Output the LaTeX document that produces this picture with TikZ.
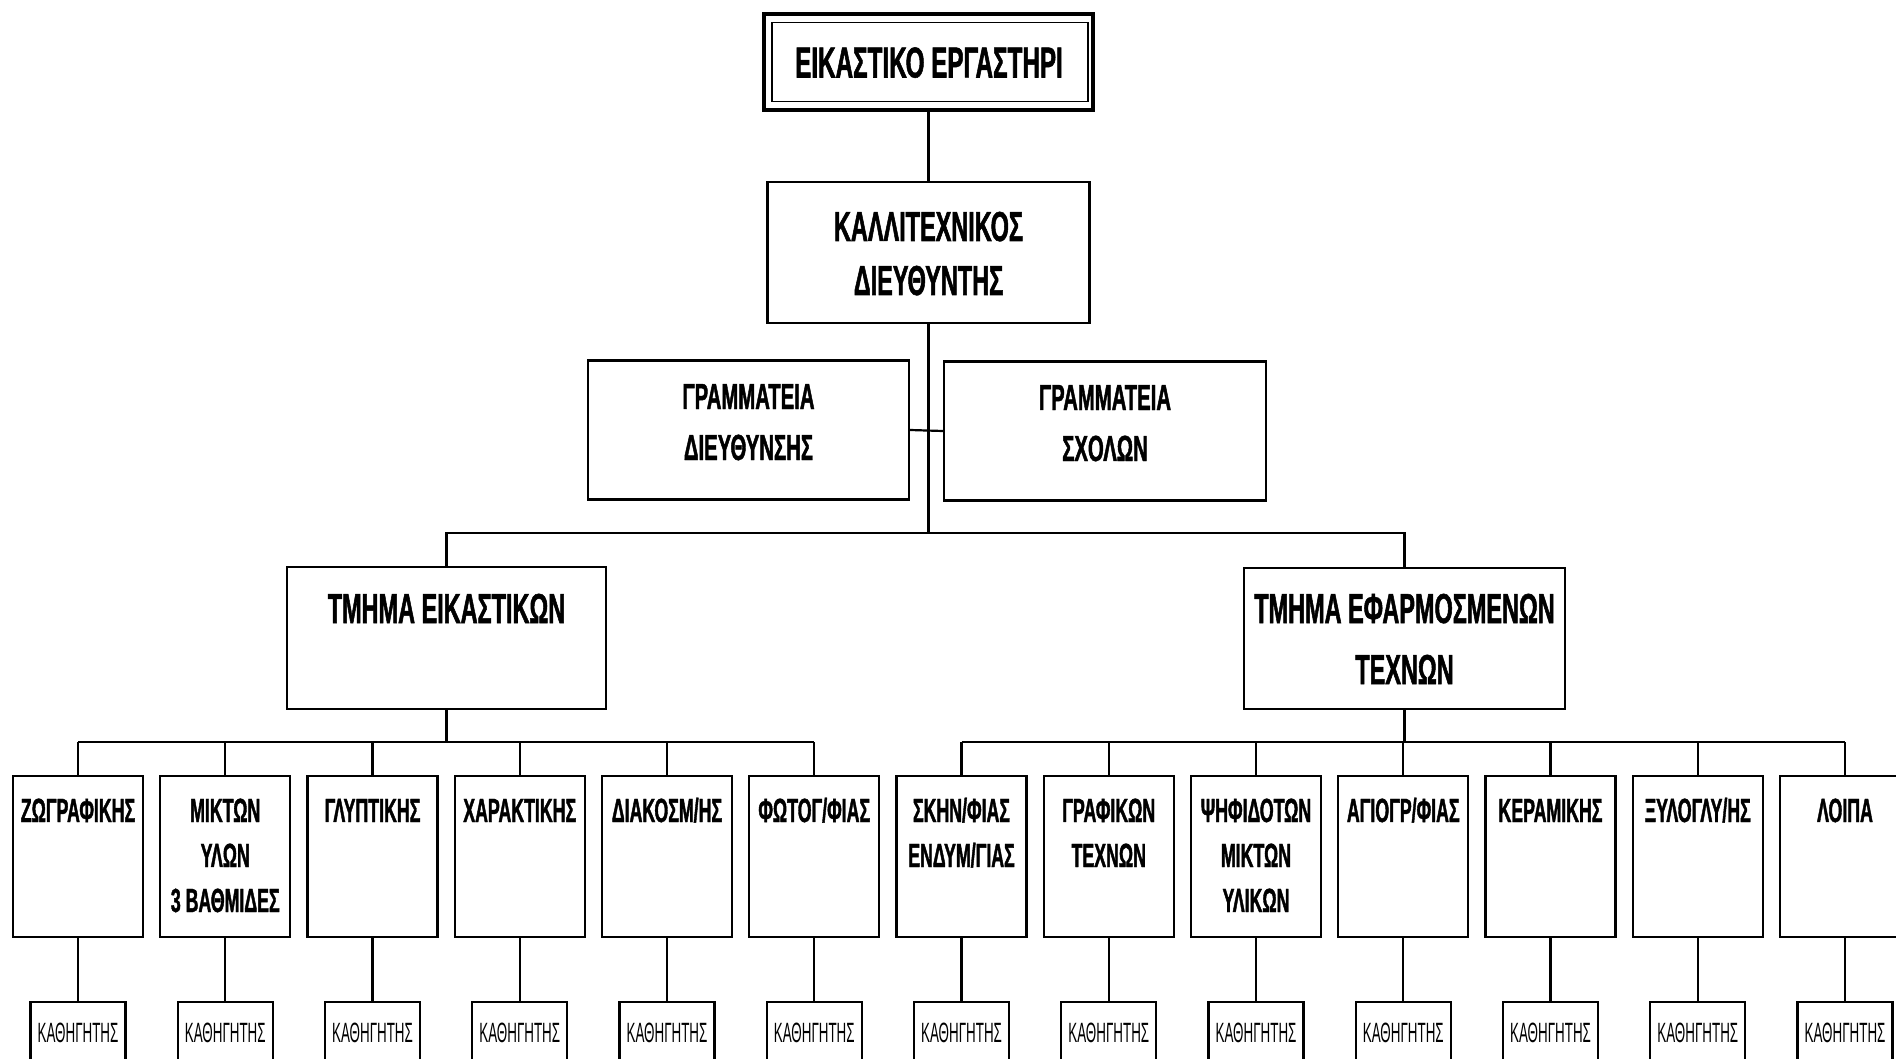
\documentclass[tikz,border=0pt]{standalone}
\usepackage{fontspec}
\setmainfont{Liberation Sans}
\newfontfamily\condB{Liberation Sans}[FakeStretch=0.56,FakeBold=1.2]
\newfontfamily\condS{Liberation Sans}[FakeStretch=0.53,FakeBold=1.2]
\newfontfamily\condR{Liberation Sans}[FakeStretch=0.48]
\begin{document}
\begin{tikzpicture}[x=1pt,y=-1pt,
  box/.style={draw, rectangle, line width=2.3pt, inner sep=0pt},
  conn/.style={line width=2.2pt},
  txt/.style={anchor=base, inner sep=0pt},
  tTop/.style={txt, font=\condB\bfseries\fontsize{43.3pt}{50pt}\selectfont},
  tDir/.style={txt, font=\condB\bfseries\fontsize{41.9pt}{50pt}\selectfont},
  tSec/.style={txt, font=\condB\bfseries\fontsize{36.3pt}{44pt}\selectfont},
  tDep/.style={txt, font=\condB\bfseries\fontsize{41.9pt}{50pt}\selectfont},
  tL3/.style={txt, font=\condS\bfseries\fontsize{33.5pt}{40pt}\selectfont},
  tPr/.style={txt, font=\condR\fontsize{27.9pt}{34pt}\selectfont}]
\fill[white] (0,0) rectangle (1896,1059);
\useasboundingbox (0,0) rectangle (1896,1059);
\clip (0,0) rectangle (1896,1059);

% top
\node[box, line width=3.8pt, minimum width=329pt, minimum height=96pt] (top) at (928.5,62) {};
\node[box, line width=1.8pt, minimum width=316pt, minimum height=79pt] (topin) at (930,62) {};
\node[tTop] (ttop) at (929,77.5) {ΕΙΚΑΣΤΙΚΟ ΕΡΓΑΣΤΗΡΙ};

% director
\node[box, minimum width=322pt, minimum height=141pt] (dir) at (928.5,252.5) {};
\node[tDir] (tdir1) at (928.5,241) {ΚΑΛΛΙΤΕΧΝΙΚΟΣ};
\node[tDir] (tdir2) at (928.5,295) {ΔΙΕΥΘΥΝΤΗΣ};

% secretariats
\node[box, minimum width=321pt, minimum height=139pt] (secL) at (748.5,430) {};
\node[tSec] (tsecL1) at (748.5,409) {ΓΡΑΜΜΑΤΕΙΑ};
\node[tSec] (tsecL2) at (748.5,460) {ΔΙΕΥΘΥΝΣΗΣ};
\node[box, minimum width=322pt, minimum height=139pt] (secR) at (1105,431) {};
\node[tSec] (tsecR1) at (1105,410) {ΓΡΑΜΜΑΤΕΙΑ};
\node[tSec] (tsecR2) at (1105,461) {ΣΧΟΛΩΝ};

% departments
\node[box, minimum width=319pt, minimum height=142pt] (dep1) at (446.5,638) {};
\node[tDep] (tdep1) at (446.5,623) {ΤΜΗΜΑ ΕΙΚΑΣΤΙΚΩΝ};
\node[box, minimum width=321pt, minimum height=141pt] (dep2) at (1404.5,638.5) {};
\node[tDep] (tdep2a) at (1404.5,623) {ΤΜΗΜΑ ΕΦΑΡΜΟΣΜΕΝΩΝ};
\node[tDep] (tdep2b) at (1404.5,684) {ΤΕΧΝΩΝ};

% upper connectors
\coordinate (bL) at (446.5,533);
\coordinate (bR) at (1404.5,533);
\draw[conn] (top.south) -- (dir.north);
\draw[conn] (dir.south) -- (dir.south |- bL);
\draw[conn] (secL.east) -- (secR.west);
\draw[conn] (dep1.north) -- (bL) -- (bR) -- (dep2.north);

% sections and professors
\foreach \i/\a/\b/\c in {
  0/{ΖΩΓΡΑΦΙΚΗΣ}/{}/{},
  1/{ΜΙΚΤΩΝ}/{ΥΛΩΝ}/{3 ΒΑΘΜΙΔΕΣ},
  2/{ΓΛΥΠΤΙΚΗΣ}/{}/{},
  3/{ΧΑΡΑΚΤΙΚΗΣ}/{}/{},
  4/{ΔΙΑΚΟΣΜ/ΗΣ}/{}/{},
  5/{ΦΩΤΟΓ/ΦΙΑΣ}/{}/{},
  6/{ΣΚΗΝ/ΦΙΑΣ}/{ΕΝΔΥΜ/ΓΙΑΣ}/{},
  7/{ΓΡΑΦΙΚΩΝ}/{ΤΕΧΝΩΝ}/{},
  8/{ΨΗΦΙΔΟΤΩΝ}/{ΜΙΚΤΩΝ}/{ΥΛΙΚΩΝ},
  9/{ΑΓΙΟΓΡ/ΦΙΑΣ}/{}/{},
  10/{ΚΕΡΑΜΙΚΗΣ}/{}/{},
  11/{ΞΥΛΟΓΛΥ/ΗΣ}/{}/{},
  12/{ΛΟΙΠΑ}/{}/{}} {
  \pgfmathsetmacro\cx{78+147.25*\i}
  \node[box, minimum width=130pt, minimum height=161pt] (s\i) at (\cx,856.5) {};
  \node[tL3] (s\i-a) at (\cx,822) {\a};
  \node[tL3] (s\i-b) at (\cx,867) {\b};
  \node[tL3] (s\i-c) at (\cx,912) {\c};
  \node[box, minimum width=95pt, minimum height=100pt] (p\i) at (\cx,1052) {};
  \node[tPr] (p\i-t) at (\cx,1042) {ΚΑΘΗΓΗΤΗΣ};
  \coordinate (k\i) at (\cx,742);
  \draw[conn] (k\i) -- (s\i.north);
  \draw[conn] (s\i.south) -- (p\i.north);
}
\draw[conn] (k0) -- (k5);
\draw[conn] (k6) -- (k12);
\draw[conn] (dep1.south) -- (dep1.south |- k0);
\draw[conn] (dep2.south) -- (dep2.south |- k6);
\end{tikzpicture}
\end{document}
